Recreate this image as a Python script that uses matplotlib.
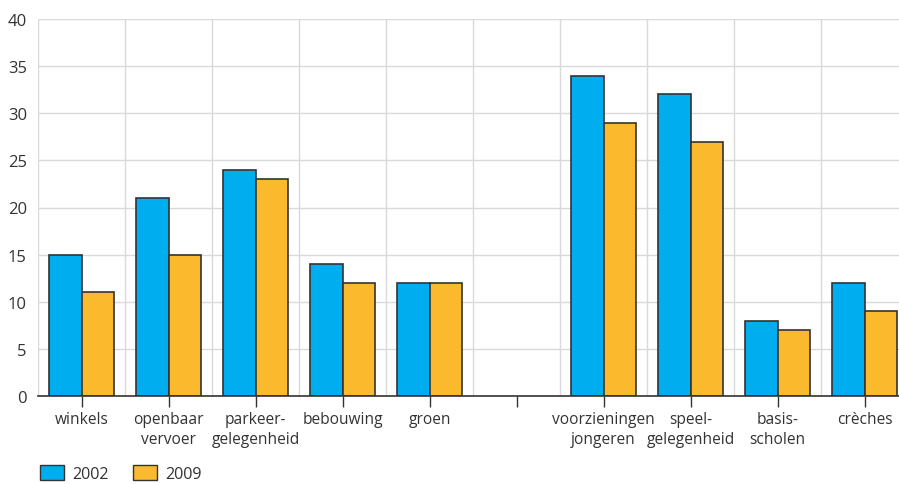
import numpy as np
import matplotlib.pyplot as plt
from matplotlib.patches import Patch

categories = ["winkels", "openbaar\nvervoer", "parkeer-\ngelegenheid", "bebouwing", "groen", "",
              "voorzieningen\njongeren", "speel-\ngelegenheid", "basis-\nscholen", "crèches"]
v2002 = [15, 21, 24, 14, 12, 0, 34, 32, 8, 12]
v2009 = [11, 15, 23, 12, 12, 0, 29, 27, 7, 9]
labels = ["2002", "2009"]

blue = "#00aeef"
orange = "#fbba2e"
txt = "#333333"

plt.rcParams['font.family'] = ['Open Sans', 'DejaVu Sans']

fig = plt.figure(figsize=(8.99, 4.85), dpi=100)
ax = fig.add_axes([38/899, 88/485, 870/899, 377/485])

x = np.arange(len(categories))
w = 0.375
mask = [c != "" for c in categories]
xs = x[mask]
ax.bar(xs - w/2, np.array(v2002)[mask], w, color=blue, edgecolor="#333333", linewidth=1.2, zorder=3)
ax.bar(xs + w/2, np.array(v2009)[mask], w, color=orange, edgecolor="#333333", linewidth=1.2, zorder=3)

ax.set_xlim(-0.5, len(categories) - 0.5)
ax.set_ylim(0, 40)
ax.set_yticks(range(0, 41, 5))
ax.set_xticks(x)
ax.set_xticklabels(categories, fontsize=11.2, color=txt, linespacing=1.35)
ax.set_xticks(np.arange(-0.5, len(categories), 1), minor=True)
ax.tick_params(axis="x", which="major", length=8, width=1, color="#333333", direction="out", pad=3)
ax.tick_params(axis="x", which="minor", length=0)
ax.tick_params(axis="y", length=0, labelsize=12, labelcolor=txt, pad=8)
ax.grid(axis="y", color="#d9d9d9", linewidth=1, zorder=0)
ax.grid(axis="x", which="minor", color="#d9d9d9", linewidth=1, zorder=0)
for s in ["left", "right", "top"]:
    ax.spines[s].set_visible(False)
ax.spines["bottom"].set_color("#333333")
ax.spines["bottom"].set_linewidth(1.2)
ax.spines["bottom"].set_zorder(4)

handles = [Patch(facecolor=blue, edgecolor="#333333"), Patch(facecolor=orange, edgecolor="#333333")]
fig.legend(handles, labels, loc="lower left", bbox_to_anchor=(0.028, -0.026), ncol=2, frameon=False,
           fontsize=11.6, handlelength=1.5, handleheight=1.1, columnspacing=1.5, handletextpad=0.5,
           labelcolor=txt)

fig.savefig("out.png", dpi=100)
